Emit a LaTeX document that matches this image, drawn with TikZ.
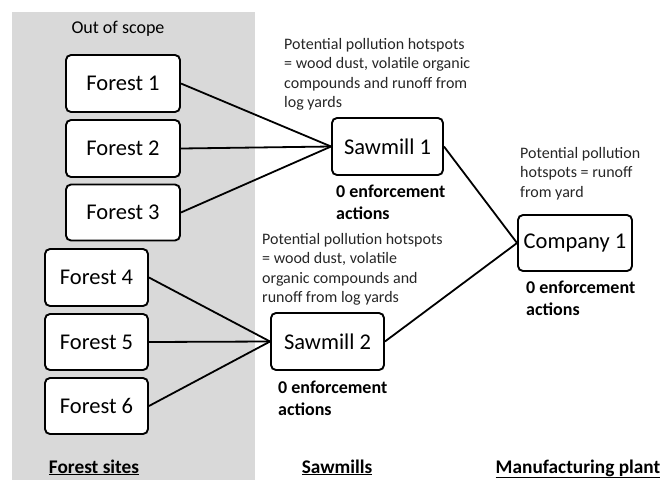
\documentclass[tikz,border=0pt]{standalone}
\usepackage{fontspec}
\setmainfont{Carlito}
\begin{document}
\begin{tikzpicture}[x=1pt,y=-1pt,
  site/.style={draw, line width=1.9pt, rounded corners=5pt, fill=white,
    font=\fontsize{22.5}{27}\selectfont, inner sep=0pt},
  link/.style={line width=1.8pt},
  note/.style={anchor=north west, align=left, inner sep=0pt,
    font=\fontsize{16}{19.5}\selectfont, text=black!85},
  count/.style={anchor=north west, align=left, inner sep=0pt,
    font=\bfseries\fontsize{18}{21.5}\selectfont},
  tier/.style={anchor=base, inner sep=0pt, font=\bfseries\fontsize{19.3}{22}\selectfont}]
\useasboundingbox (0,0) rectangle (672,480);

% shaded out-of-scope band
\fill[gray!30] (12,12) rectangle (255,480);
\node (scope) [anchor=base, inner sep=0pt, font=\fontsize{18}{21}\selectfont] at (118,33) {Out of scope};

% forest sites
\node (f1) [site, minimum width=114pt, minimum height=57pt] at (123,83.5) {Forest 1};
\node (f2) [site, minimum width=114pt, minimum height=57pt] at (123,148.5) {Forest 2};
\node (f3) [site, minimum width=114pt, minimum height=56pt] at (123,212.5) {Forest 3};
\node (f4) [site, minimum width=103pt, minimum height=57pt] at (96.5,277.5) {Forest 4};
\node (f5) [site, minimum width=103pt, minimum height=56pt] at (96.5,342) {Forest 5};
\node (f6) [site, minimum width=103pt, minimum height=56pt] at (96.5,406) {Forest 6};

% sawmills and plant
\node (s1) [site, minimum width=111pt, minimum height=57pt] at (387.5,146.5) {Sawmill 1};
\node (s2) [site, minimum width=113pt, minimum height=57pt] at (327.5,341.5) {Sawmill 2};
\node (c1) [site, minimum width=114pt, minimum height=56pt] at (575,243) {Company 1};

% supply links
\draw[link] (f1.east) -- (s1.west);
\draw[link] (f2.east) -- (s1.west);
\draw[link] (f3.east) -- (s1.west);
\draw[link] (f4.east) -- (s2.west);
\draw[link] (f5.east) -- (s2.west);
\draw[link] (f6.east) -- (s2.west);
\draw[link] (s1.east) -- (c1.west);
\draw[link] (s2.east) -- (c1.west);

% hotspot notes
\node (n1) [note] at (284,38) {Potential pollution hotspots\\= wood dust, volatile organic\\compounds and runoff from\\log yards};
\node (n2) [note] at (262,233) {Potential pollution hotspots\\= wood dust, volatile\\organic compounds and\\runoff from log yards};
\node (n3) [note] at (520,147) {Potential pollution\\hotspots = runoff\\from yard};

% enforcement counts
\node (e1) [count] at (336,185) {0 enforcement\\actions};
\node (e2) [count] at (278,381) {0 enforcement\\actions};
\node (e3) [count] at (526,281) {0 enforcement\\actions};

% tier headings
\node (t1) [tier] at (94,473) {\underline{Forest sites}};
\node (t2) [tier] at (337,473) {\underline{Sawmills}};
\node (t3) [tier] at (578,473) {\underline{Manufacturing plant}};
\end{tikzpicture}
\end{document}
